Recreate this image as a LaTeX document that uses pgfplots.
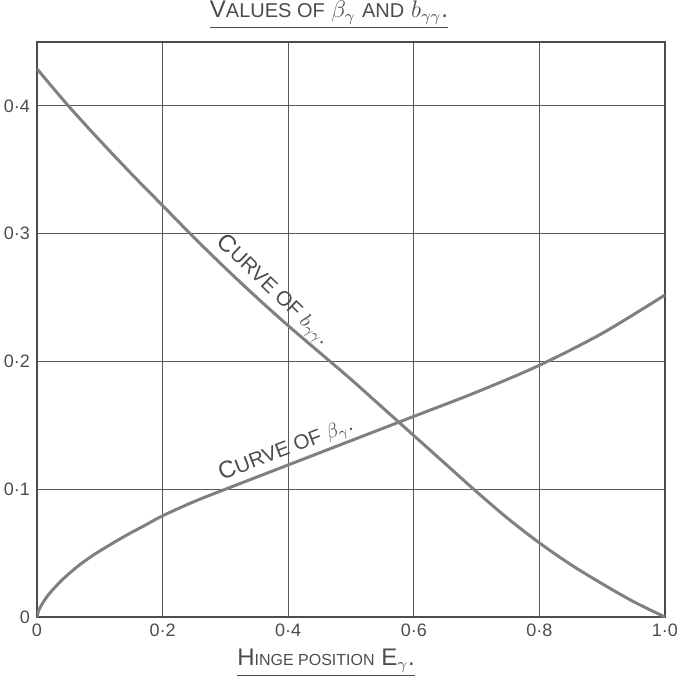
\documentclass[border=0pt]{standalone}
\usepackage{pgfplots}
\pgfplotsset{compat=1.18}
\usepackage{fontspec}
\setmainfont{Liberation Sans}
\definecolor{ink}{gray}{0.3}
\definecolor{gridc}{gray}{0.35}
\definecolor{curvec}{gray}{0.5}
\begin{document}
\begin{tikzpicture}[x=1pt,y=1pt]
\begin{pgfinterruptboundingbox}
\begin{axis}[
  name=ax, at={(0,0)}, anchor=south west,
  scale only axis, width=314pt, height=287.5pt,
  xmin=0, xmax=1, ymin=0, ymax=0.45,
  xtick={0,0.2,0.4,0.6,0.8,1},
  xticklabels={0,0·2,0·4,0·6,0·8,1·0},
  ytick={0,0.1,0.2,0.3,0.4},
  yticklabels={0,0·1,0·2,0·3,0·4},
  grid=major,
  major grid style={gridc, line width=0.6pt},
  axis line style={ink, line width=1.3pt},
  tick style={draw=none},
  tick label style={font=\small, text=ink},
]
% Curve of b_gamma gamma
\addplot[curvec, line width=1.5pt, smooth] coordinates {
(0,0.429) (0.05,0.400) (0.1,0.373) (0.15,0.347) (0.2,0.322) (0.25,0.297)
(0.3,0.273) (0.35,0.250) (0.4,0.228) (0.45,0.207) (0.5,0.186) (0.55,0.164)
(0.6,0.142) (0.65,0.120) (0.7,0.098) (0.75,0.077) (0.8,0.058) (0.85,0.041)
(0.9,0.026) (0.95,0.012) (1.0,0.0)
};
% Curve of beta_gamma
\addplot[curvec, line width=1.5pt, smooth] coordinates {
(0,0) (0.003,0.0055) (0.0094,0.0112) (0.02,0.0185) (0.041,0.0295)
(0.067,0.0405) (0.093,0.0495) (0.119,0.0573) (0.145,0.0647) (0.171,0.0715)
(0.2,0.0792) (0.25,0.0903) (0.3,0.100) (0.35,0.1095) (0.4,0.119)
(0.5,0.138) (0.6,0.157) (0.7,0.176) (0.8,0.197) (0.9,0.222) (1.0,0.252)
};
\node[rotate=-43.7, anchor=south, inner sep=2.5pt, text=ink, font=\fontsize{10.3}{12}\selectfont] at (axis cs:0.358,0.246)
  {{\fontsize{12}{14}\selectfont C}URVE OF $b_{\gamma\gamma}$.};
\node[rotate=21, anchor=south, inner sep=1.5pt, text=ink, font=\fontsize{10.3}{12}\selectfont] at (axis cs:0.405,0.120)
  {{\fontsize{12}{14}\selectfont C}URVE OF $\beta_{\gamma}$.};
\end{axis}
\node[text=ink, font=\large] at (146,301)
  {\underline{V{\normalsize ALUES OF} $\beta_\gamma$ {\normalsize AND} $b_{\gamma\gamma}$.}};
\node[text=ink, font=\large] at (144.5,-23)
  {\underline{H{\footnotesize INGE POSITION} E$_\gamma$.}};
\end{pgfinterruptboundingbox}
\path (-18.5,-30) rectangle (320,308.5);
\end{tikzpicture}
\end{document}
